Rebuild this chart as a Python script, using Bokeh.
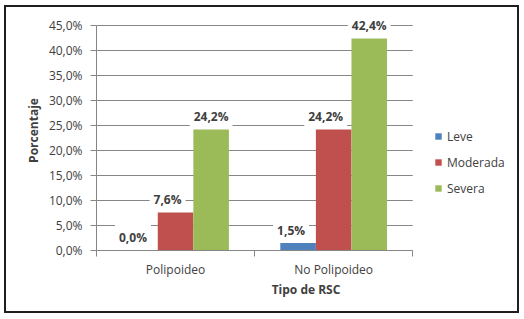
import json
from bokeh.plotting import figure
from bokeh.models import (ColumnDataSource, FixedTicker, CustomJSTickFormatter,
                          Legend, LegendItem, Range1d)
from bokeh.core.properties import value
from bokeh.embed import file_html
from bokeh.resources import INLINE

categories = ["Polipoideo", "No Polipoideo"]
series_names = ["Leve", "Moderada", "Severa"]
leve = [0.0, 1.5]
moderada = [7.6, 24.2]
severa = [24.2, 42.4]
y_ticks = [0, 5, 10, 15, 20, 25, 30, 35, 40, 45]

series_values = [leve, moderada, severa]
colors = ["#4F81BD", "#C0504D", "#9BBB59"]
offsets = [-0.225, 0.0, 0.225]
label_dx = [-7, -8, 0]
bar_w = 0.225
n = len(categories)

FONT = "Open Sans"
TXT = "#404040"
GRID = "#868686"

p = figure(width=515, height=308, x_range=Range1d(0, 2.65),
           y_range=Range1d(0, 48), output_backend="svg", toolbar_location=None,
           min_border_left=90, min_border_right=6, min_border_top=3,
           min_border_bottom=65)
p.margin = (5, 0, 0, 4)
p.styles = {"border": "2px solid #1e1e1e"}
p.outline_line_color = None
p.background_fill_color = "white"
p.border_fill_color = "white"

# horizontal gridlines across the category area only
p.segment(x0=[0] * len(y_ticks), x1=[n] * len(y_ticks), y0=y_ticks, y1=y_ticks,
          line_color=GRID, line_width=1)

items = []
label_srcs = []
for name, vals, col, off, dx in zip(series_names, series_values, colors, offsets, label_dx):
    src = ColumnDataSource(dict(
        x=[i + 0.5 + off for i in range(n)],
        top=vals,
        lab=[f"{v:.1f}".replace(".", ",") + "%" for v in vals],
    ))
    r = p.vbar(x="x", top="top", bottom=0, width=bar_w, source=src,
               fill_color=col, line_color=None)
    items.append(LegendItem(label=name, renderers=[r]))
    label_srcs.append((src, dx))

for src, dx in label_srcs:
    p.text(x="x", y="top", text="lab", source=src, x_offset=dx, y_offset=-13,
           text_align="center", text_baseline="middle",
           text_font=value(FONT), text_font_style="bold",
           text_font_size="12px", text_color=TXT,
           background_fill_color="white", padding=4)

legend = Legend(items=items, location=(338, 52), glyph_width=8, glyph_height=8,
                label_height=20, spacing=6, padding=5, margin=0,
                label_standoff=5, border_line_color=None,
                background_fill_alpha=0,
                label_text_font=FONT, label_text_font_size="12px",
                label_text_color=TXT)
p.add_layout(legend, "center")

# y axis
p.yaxis.ticker = FixedTicker(ticks=y_ticks, minor_ticks=[])
p.yaxis.bounds = (y_ticks[0], y_ticks[-1])
p.yaxis.formatter = CustomJSTickFormatter(
    code="return tick.toFixed(1).replace('.', ',') + '%';")
p.yaxis.major_tick_out = 6
p.yaxis.major_tick_in = 0
p.yaxis.major_label_standoff = 8
p.yaxis.axis_line_color = GRID
p.yaxis.major_tick_line_color = GRID
p.yaxis.axis_label = "Porcentaje"
p.yaxis.axis_label_standoff = 4

# x axis: labels at category centres, ticks at category boundaries
p.xaxis.ticker = FixedTicker(ticks=[i + 0.5 for i in range(n)],
                             minor_ticks=list(range(n + 1)))
p.xaxis.bounds = (0, n)
p.xaxis.formatter = CustomJSTickFormatter(
    code="const labels = " + json.dumps(categories) + "; return labels[Math.floor(tick)];")
p.xaxis.major_tick_out = 0
p.xaxis.major_tick_in = 0
p.xaxis.minor_tick_out = 6
p.xaxis.minor_tick_in = 0
p.xaxis.minor_tick_line_color = GRID
p.xaxis.axis_line_color = GRID
p.xaxis.major_label_standoff = 4
p.xaxis.axis_label = "Tipo de RSC"
p.xaxis.axis_label_standoff = 0

for ax in (p.xaxis, p.yaxis):
    ax.major_label_text_font = FONT
    ax.major_label_text_font_size = "12px"
    ax.major_label_text_color = TXT
    ax.axis_label_text_font = FONT
    ax.axis_label_text_font_size = "12px"
    ax.axis_label_text_font_style = "bold"
    ax.axis_label_text_color = TXT

p.xgrid.visible = False
p.ygrid.visible = False

open("out.html", "w").write(file_html(p, INLINE))
